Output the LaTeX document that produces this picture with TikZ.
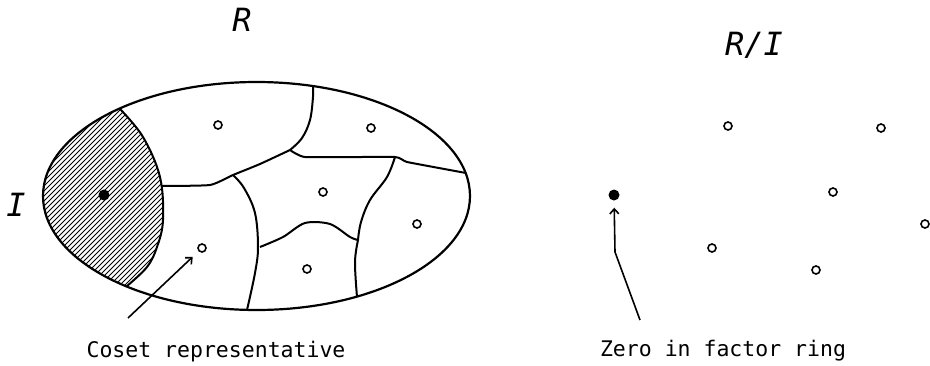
\documentclass[tikz,border=0pt]{standalone}
\usepackage{fontspec}
\usetikzlibrary{arrows.meta}
\setmonofont{DejaVu Sans Mono}
\newfontfamily\labfont{DejaVu Sans Mono}

\begin{document}
\begin{tikzpicture}[
    x=1pt, y=-1pt,
    >={Straight Barb[length=5pt, width=9pt]},
    rim/.style={line width=2.2pt},
    wall/.style={line width=2pt},
    hatch/.style={line width=1pt},
    rep/.style={circle, draw, line width=1.6pt, inner sep=0pt, minimum size=8pt},
    zero/.style={circle, fill, inner sep=0pt, minimum size=11pt},
    pointer/.style={->, line width=1.6pt},
    caption/.style={anchor=base, font=\ttfamily\fontsize{21.5}{24}\selectfont},
    setname/.style={font=\labfont\itshape\fontsize{32}{34}\selectfont}
]
    \useasboundingbox (0,0) rectangle (930,365);

    % der Ring R
    \coordinate (ringC) at (256.5,196);
    \begin{scope}
        \clip (ringC) ellipse [x radius=213.5pt, y radius=114pt];
        \clip (0,100) -- plot[smooth, tension=0.6] coordinates {(120,109) (143,137) (160,177) (163,220) (157,247) (147,267) (127,286)} -- (0,300) -- cycle;
        \foreach \c in {140,145,...,470}
            \draw[hatch] (\c-300,300) -- (\c,0);
    \end{scope}
    \draw[rim] (ringC) ellipse [x radius=213.5pt, y radius=114pt];

    % Nebenklassen
    \draw[wall] plot[smooth, tension=0.6] coordinates {(120,109) (143,137) (160,177) (163,220) (157,247) (147,267) (127,286)};
    \draw[wall] plot[smooth, tension=0.3] coordinates {(161,186) (210,185) (233,175) (260,164) (290,150)};
    \draw[wall] plot[smooth, tension=0.6] coordinates {(290,150) (302,138) (310,120) (313,97) (313,86)};
    \draw[wall] plot[smooth, tension=0.2] coordinates {(290,150) (305,157) (395,157) (407,162) (466,173)};
    \draw[wall] plot[smooth, tension=0.6] coordinates {(395,157) (387,177) (370,200) (361,222) (358,240)};
    \draw[wall] plot[smooth, tension=0.5] coordinates {(260,247) (283,237) (305,223) (330,224) (350,237) (358,240)};
    \draw[wall] plot[smooth, tension=0.6] coordinates {(358,240) (355,262) (357,297)};
    \draw[wall] plot[smooth, tension=0.6] coordinates {(233,175) (244,188) (255,213) (258,247) (255,273) (247,310)};

    % Vertreter
    \node[zero] (nullI) at (104,195) {};
    \node[rep] (r1) at (218,125) {};
    \node[rep] (r2) at (202,248) {};
    \node[rep] (r3) at (371,128) {};
    \node[rep] (r4) at (323,192) {};
    \node[rep] (r5) at (417,224) {};
    \node[rep] (r6) at (307,269) {};

    % Faktorring R/I
    \node[zero] (nullQ) at (614,195) {};
    \node[rep] (q1) at (728,126) {};
    \node[rep] (q2) at (881,128) {};
    \node[rep] (q3) at (833,192) {};
    \node[rep] (q4) at (925,224) {};
    \node[rep] (q5) at (712,248) {};
    \node[rep] (q6) at (816,270) {};

    % Beschriftung
    \node[setname] (labR) at (242,20) {R};
    \node[setname] (labRI) at (754,45) {R/I};
    \node[setname] (labI) at (16,205) {I};
    \node[caption] (coset) at (216,357) {Coset representative};
    \node[caption] (zerotxt) at (723,356) {Zero in factor ring};

    \coordinate (cosetTail) at (128,318);
    \coordinate (zeroTail) at (640,320);
    \coordinate (zeroBend) at (615,252);
    \draw[pointer, shorten >=8pt] (cosetTail) -- (r2);
    \draw[pointer, shorten >=7pt] (zeroTail) -- (zeroBend) -- (nullQ);
\end{tikzpicture}
\end{document}
